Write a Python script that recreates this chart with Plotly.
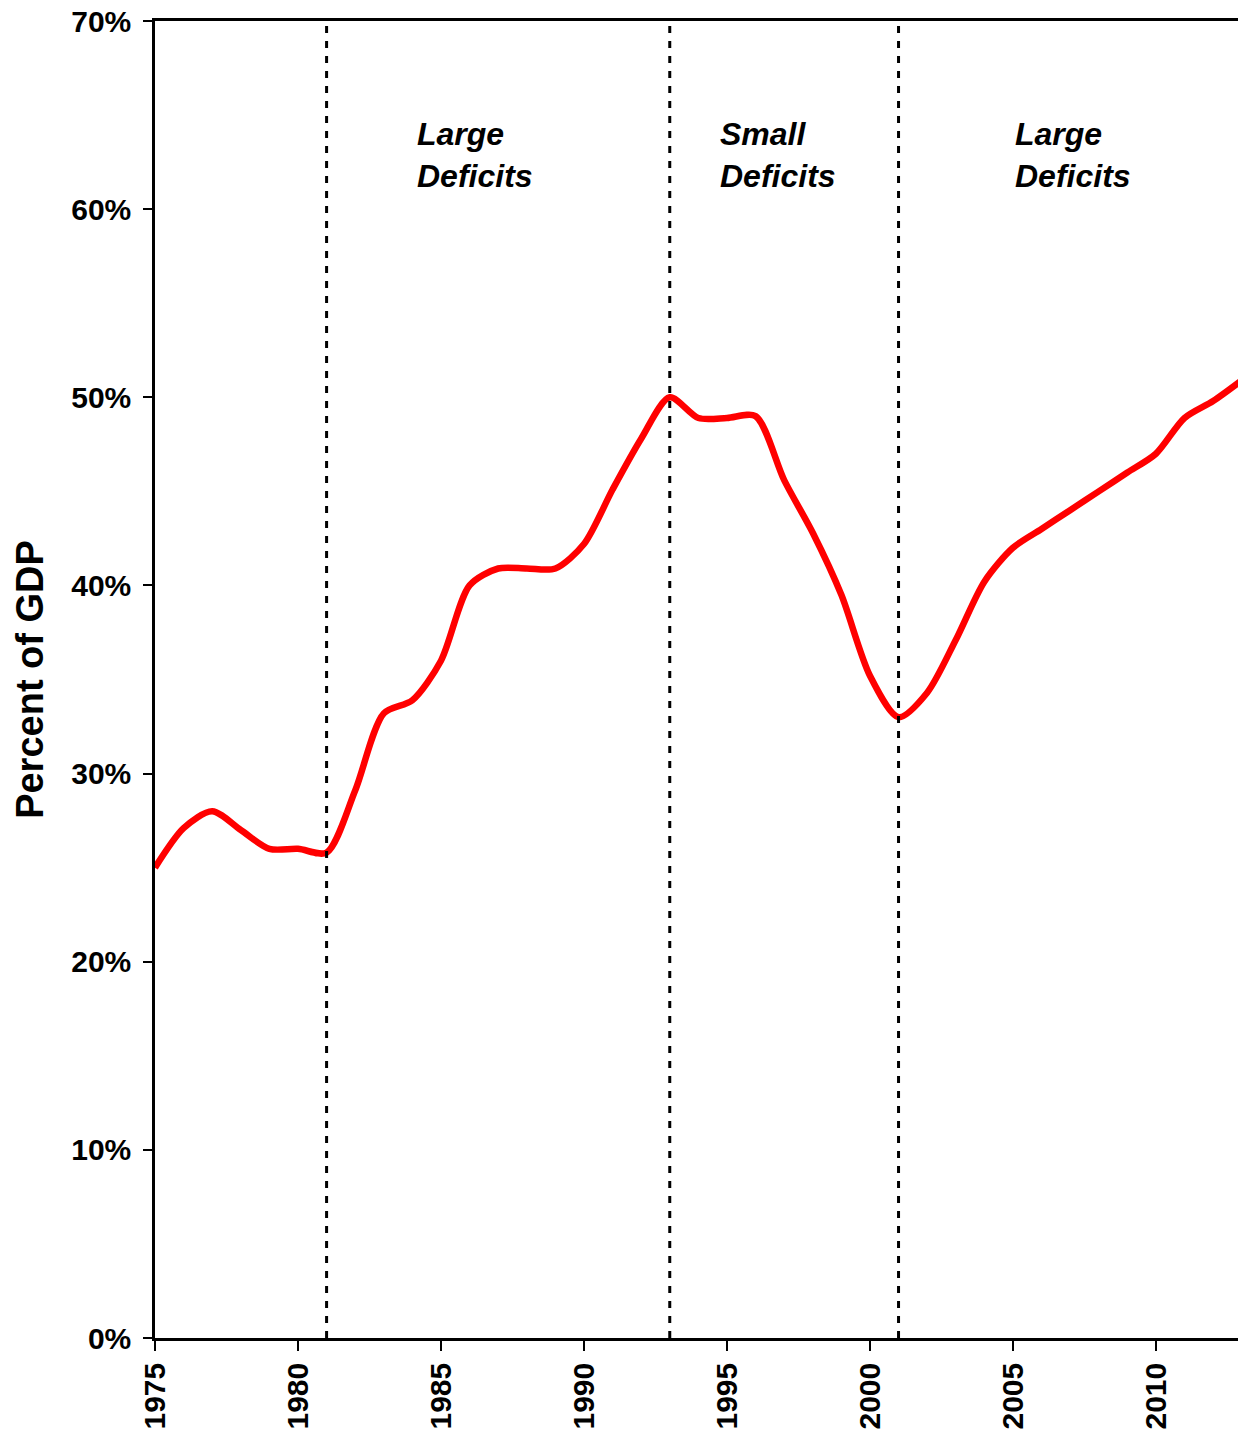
import plotly.graph_objects as go

years = list(range(1975, 2014))
debt_pct = [25.0, 27.1, 28.0, 27.0, 26.0, 26.0, 25.8, 29.1, 33.2, 33.9,
            36.0, 40.0, 40.9, 40.9, 40.9, 42.2, 45.1, 47.8, 50.0, 48.9,
            48.9, 49.0, 45.6, 42.8, 39.5, 35.2, 33.0, 34.3, 37.1, 40.2,
            42.0, 43.0, 44.0, 45.0, 46.0, 47.0, 48.9, 49.8, 50.9]

divider_years = [1981, 1993, 2001]
period_labels = ["Large<br>Deficits", "Small<br>Deficits", "Large<br>Deficits"]
period_label_x = [1984.1, 1994.7, 2005.0]

y_ticks = [0, 10, 20, 30, 40, 50, 60, 70]
y_tick_labels = [f"{v}%" for v in y_ticks]
x_ticks = list(range(1975, 2015, 5))

FONT = "Liberation Sans, Arial, sans-serif"

fig = go.Figure()
fig.add_trace(go.Scatter(
    x=years, y=debt_pct, mode="lines",
    line=dict(color="#FF0000", width=6.5, shape="spline", smoothing=0.8),
    showlegend=False, hoverinfo="skip",
))

for yr in divider_years:
    fig.add_shape(type="line", xref="x", yref="y", x0=yr, x1=yr, y0=0, y1=70,
                  line=dict(color="black", width=3, dash="7px,8px"), layer="above")

for xl, txt in zip(period_label_x, period_labels):
    fig.add_annotation(x=xl, y=62.9, xref="x", yref="y", text=f"<i>{txt}</i>",
                       showarrow=False, xanchor="left", yanchor="middle", align="left",
                       font=dict(family=FONT, size=32, color="black", weight="bold"))

fig.update_layout(
    width=1238, height=1440,
    margin=dict(l=155, r=0, t=21, b=102),
    paper_bgcolor="white", plot_bgcolor="white",
    font=dict(family=FONT, color="black"),
)
fig.update_xaxes(
    range=[1975, 2012.87], tickvals=x_ticks, ticktext=[str(v) for v in x_ticks],
    tickangle=-90, tickfont=dict(family=FONT, size=30, color="black", weight="bold"),
    ticks="outside", ticklen=10, tickwidth=1.5, tickcolor="black",
    ticklabeloverflow="allow",
    showline=True, linecolor="black", linewidth=2.5, mirror=True,
    showgrid=False, zeroline=False,
)
fig.update_yaxes(
    range=[0, 70], tickvals=y_ticks, ticktext=y_tick_labels,
    tickfont=dict(family=FONT, size=30, color="black", weight="bold"),
    ticks="outside", ticklen=9, tickwidth=1.5, tickcolor="black",
    ticklabelstandoff=6, ticklabeloverflow="allow",
    showline=True, linecolor="black", linewidth=2.5,
    showgrid=False, zeroline=False,
    title=dict(text="Percent of GDP", font=dict(family=FONT, size=38, color="black", weight="bold"), standoff=16),
)

fig.write_html(
    "out.html",
    config={"displayModeBar": False},
    post_script="document.body.style.margin='0';document.body.style.overflow='hidden';"
                "document.documentElement.style.overflow='hidden';",
)
